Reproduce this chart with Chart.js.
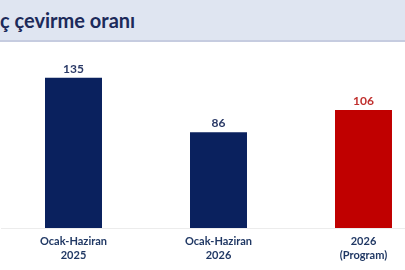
<!DOCTYPE html>
<html>
<head>
<meta charset="utf-8">
<script src="https://cdn.jsdelivr.net/npm/chart.js@4.4.1/dist/chart.umd.min.js"></script>
<style>
  html, body { margin: 0; padding: 0; width: 405px; height: 270px; overflow: hidden; background: #ffffff; }
  #header { position: absolute; left: 0; top: 0; width: 405px; height: 40px; background: #dfe5f1; border-bottom: 2px solid #c6cce0; }
  #title { position: absolute; left: 0; top: 8px; font-family: Lato, "Open Sans", sans-serif; font-weight: bold; font-size: 20px; color: #1c2a5a; white-space: nowrap; }
  #wrap { position: absolute; left: 0; top: 42px; width: 440px; height: 228px; }
</style>
</head>
<body>
<div id="header"><div id="title">ç çevirme oranı</div></div>
<div id="wrap"><canvas id="c" width="440" height="228"></canvas></div>
<script>
const categories = [["Ocak-Haziran", "2025"], ["Ocak-Haziran", "2026"], ["2026", "(Program)"]];
const values = [135, 86, 106];
const barColors = ["#0a215e", "#0a215e", "#c00000"];
const labelColors = ["#2b3a67", "#2b3a67", "#c0302e"];

const valueLabels = {
  id: "valueLabels",
  afterDatasetsDraw(chart) {
    const ctx = chart.ctx;
    const meta = chart.getDatasetMeta(0);
    ctx.save();
    ctx.font = "bold 12px Lato, 'Open Sans', sans-serif";
    ctx.textAlign = "center";
    ctx.textBaseline = "bottom";
    meta.data.forEach((bar, i) => {
      ctx.fillStyle = labelColors[i];
      ctx.fillText(String(values[i]), bar.x, bar.y - 3);
    });
    ctx.restore();
  }
};

new Chart(document.getElementById("c"), {
  type: "bar",
  data: {
    labels: categories,
    datasets: [{
      data: values,
      backgroundColor: barColors,
      borderWidth: 0,
      categoryPercentage: 1,
      barPercentage: 0.393
    }]
  },
  options: {
    responsive: false,
    animation: false,
    devicePixelRatio: 1,
    layout: { padding: { left: 1, right: 4, top: 8, bottom: 0 } },
    plugins: { legend: { display: false }, tooltip: { enabled: false } },
    scales: {
      y: { display: false, min: 0, max: 160 },
      x: {
        afterFit: s => { s.height = 42; },
        grid: { display: false, drawTicks: false },
        border: { display: true, color: "#ececec", width: 1 },
        ticks: {
          padding: 6,
          color: "#203864",
          font: { family: "Lato, 'Open Sans', sans-serif", size: 11, weight: "bold", lineHeight: 1.3 },
          maxRotation: 0,
          autoSkip: false
        }
      }
    }
  },
  plugins: [valueLabels]
});
</script>
</body>
</html>
